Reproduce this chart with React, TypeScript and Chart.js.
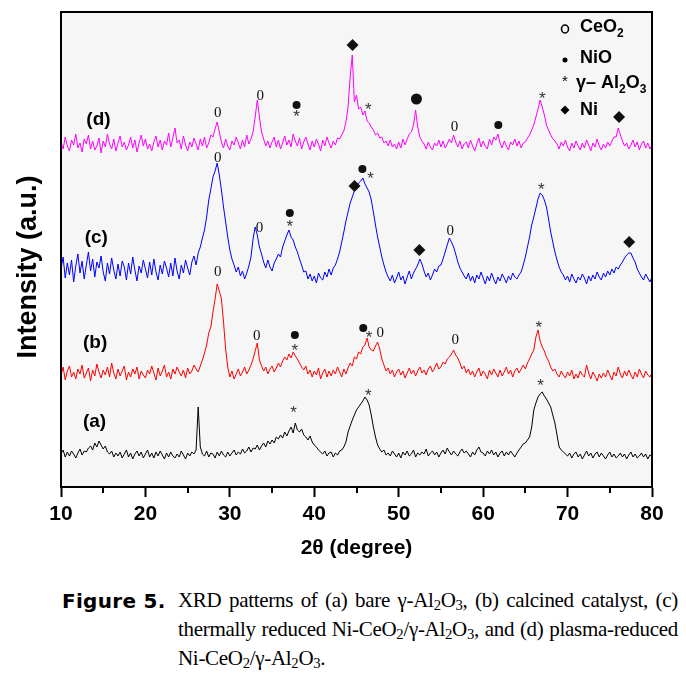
import React, { useEffect, useRef } from 'react';
import { Chart, registerables } from 'chart.js';
Chart.register(...registerables);

// 2θ sampling grid (degrees), 0.25° step from 10 to 80
const twoTheta: number[] = Array.from({ length: 281 }, (_, i) => 10 + i * 0.25);

// (a) bare γ-Al2O3
const patternA: number[] = [
  33,37,30,35, 31,36,33,29, 34,38,32,36, 35,39,41,37, 44,40,46,42,
  38,41,35,33, 36,30,34,31, 35,29,33,37, 30,34,28,33, 36,31,35,29,
  33,37,30,34, 29,35,31,36, 32,28,34,30, 35,31,29,33, 30,36,32,28,
  34,31,35,33, 37,80,40,33, 31,36,30,34, 33,29,35,31, 36,32,30,35,
  31,34,37,32, 35,33,38,34, 36,40,35,39, 38,42,37,41, 44,40,46,43,
  47,44,50,48, 52,49,55,51, 56,60,54,64, 57,55,58,52, 50,47,51,45,
  42,40,37,35, 33,36,31,34, 35,30,34,32, 36,37,40,45, 55,61,67,72,
  77,80,83,86, 90,87,82,72, 60,50,42,38, 35,37,32,34, 31,36,33,30,
  34,29,35,32, 36,31,33,37, 30,34,32,35, 33,38,31,34, 36,32,35,30,
  34,37,33,39, 35,32,36,33, 31,35,38,34, 36,33,30,35, 32,37,40,35,
  34,31,36,33, 37,32,35,30, 34,36,31,35, 32,36,33,30, 34,37,40,43,
  44,47,50,60, 77,84,90,93, 95,91,88,84, 80,72,64,52, 40,37,35,33,
  31,34,29,33, 35,30,33,28, 32,36,31,34, 29,33,35,30, 34,31,28,32,
  35,30,33,29, 31,34,30,33, 28,32,35,30, 33,29,31,34, 30,33,28,32,
  31,
];

// (b) calcined catalyst
const patternB: number[] = [
  112,120,107,116, 121,110,115,108, 118,113,122,109, 114,119,106,117, 111,123,115,109,
  117,112,120,110, 124,114,108,118, 111,116,121,107, 115,110,118,113, 120,108,116,112,
  109,117,113,121, 114,107,119,111, 116,122,110,115, 108,118,113,120, 115,111,117,109,
  119,113,116,122, 118,115,121,127, 134,142,154,160, 175,188,203,196, 188,165,138,120,
  110,116,108,113, 118,111,115,120, 113,117,122,128, 136,144,127,121, 116,120,113,118,
  121,115,119,124, 120,126,130,127, 133,129,135,131, 128,124,120,117, 121,113,117,110,
  116,112,119,108, 114,118,110,116, 111,117,113,120, 115,110,118,113, 119,124,121,130,
  128,135,133,140, 142,149,140,137, 136,141,145,138, 128,122,116,119, 113,117,110,115,
  118,112,116,109, 114,119,113,117, 111,116,120,114, 117,112,118,121, 115,119,124,118,
  120,125,123,128, 130,133,137,132, 129,124,118,121, 114,118,112,116, 110,115,119,111,
  116,113,108,117, 112,118,114,110, 117,111,115,120, 113,117,110,116, 119,114,118,122,
  118,124,128,133, 137,150,157,146, 140,136,130,126, 120,116,118,113, 110,116,112,109,
  115,111,117,108, 113,109,116,112, 110,122,114,108, 115,111,106,113, 109,114,110,117,
  112,107,115,111, 120,113,109,116, 111,117,112,108, 115,110,118,113, 109,116,112,110,
  114,
];

// (c) thermally reduced Ni-CeO2/γ-Al2O3
const patternC: number[] = [
  218,230,209,224, 212,227,205,221, 233,214,226,208, 222,235,216,228, 210,225,219,231,
  215,206,224,213, 229,217,208,223, 211,226,220,207, 224,213,230,217, 206,221,214,227,
  218,209,225,212, 228,215,207,222, 213,226,219,210, 224,211,229,216, 208,222,214,227,
  219,212,225,231, 222,234,240,249, 257,270,287,298, 310,316,324,312, 297,280,265,250,
  237,228,222,215, 220,211,216,208, 214,221,230,248, 260,252,240,233, 225,219,227,220,
  216,224,228,233, 230,240,246,252, 257,250,247,240, 235,228,222,215, 216,208,213,206,
  211,204,214,209, 207,215,210,218, 212,219,222,228, 235,245,255,266, 275,284,290,296,
  300,304,306,309, 303,299,295,287, 275,262,250,240, 230,222,215,210, 206,212,204,209,
  215,207,211,203, 210,216,208,214, 218,222,228,223, 216,210,214,207, 212,218,215,221,
  222,228,235,242, 249,245,240,233, 225,219,215,211, 208,214,206,211, 204,212,208,215,
  209,203,211,206, 214,208,203,210, 206,213,209,204, 211,207,214,210, 208,212,215,222,
  230,240,250,262, 270,279,288,294, 292,287,280,268, 255,245,235,227, 220,215,212,207,
  211,205,213,208, 204,210,207,213, 209,203,211,206, 212,208,215,210, 207,214,210,216,
  212,218,214,220, 218,222,225,229, 232,234,234,229, 225,218,214,210, 207,213,209,205,
  210,
];

// (d) plasma-reduced Ni-CeO2/γ-Al2O3
const patternD: number[] = [
  345,338,350,341, 336,347,342,353, 339,344,335,348, 343,352,338,346, 337,341,349,334,
  346,340,353,343, 338,348,336,344, 351,340,345,337, 342,350,339,347, 335,344,352,341,
  348,338,343,336, 345,351,340,347, 337,346,342,354, 340,349,359,344, 347,338,351,342,
  336,345,340,349, 343,337,348,341, 350,339,344,352, 350,358,365,355, 345,339,348,341,
  337,346,342,350, 344,338,347,340, 352,343,348,355, 370,387,370,355, 348,341,346,339,
  345,350,340,347, 338,344,351,342, 347,340,353,346, 341,349,338,345, 350,343,337,346,
  340,348,343,336, 347,341,350,344, 339,346,342,349, 348,352,356,365, 380,410,432,385,
  392,378,380,372, 376,366,364,360, 357,352,354,349, 350,344,346,341, 347,340,343,338,
  345,339,348,342, 348,353,355,362, 377,360,350,346, 343,338,345,340, 337,344,341,347,
  340,346,339,343, 348,344,352,345, 340,346,338,343, 345,339,347,341, 336,343,349,340,
  346,341,338,348, 342,350,347,353, 344,339,346,341, 337,345,342,348, 341,346,339,344,
  345,349,352,357, 362,370,378,387, 380,372,362,357, 352,348,346,343, 338,345,341,347,
  340,336,344,339, 346,341,337,344, 339,347,342,336, 344,340,348,341, 337,343,339,345,
  341,346,350,350, 359,352,346,341, 344,338,342,347, 340,345,337,343, 346,339,344,338,
  342,
];

const seriesNames = ['(a)', '(b)', '(c)', '(d)'];
const seriesColors = ['#000000', '#ff0000', '#0000ff', '#ff00ff'];
// label anchor: [2θ, intensity]
const seriesLabelAt: [number, number][] = [[12.6, 65], [12.6, 144], [12.8, 249], [13.0, 367]];

// phase markers: [2θ, intensity, symbol]  o = CeO2, • = NiO, * = γ-Al2O3, ◆ = Ni
type Mark = [number, number, string];
const marksA: Mark[] = [[37.55, 78, '*'], [46.4, 95, '*'], [66.8, 105, '*']];
const marksB: Mark[] = [
  [28.56, 215, '0'], [33.2, 151, '0'], [37.7, 152, '●'], [37.7, 140, '*'],
  [45.8, 159, '●'], [46.5, 153, '*'], [47.8, 154, '0'], [56.7, 147, '0'], [66.6, 163, '*'],
];
const marksC: Mark[] = [
  [28.56, 329, '0'], [33.5, 259, '0'], [37.1, 274, '●'], [37.1, 264, '*'],
  [44.76, 301, '◆'], [45.7, 318, '●'], [46.66, 312, '*'], [52.45, 237, '◆'],
  [56.1, 256, '0'], [66.9, 301, '*'], [77.3, 245, '◆'],
];
const marksD: Mark[] = [
  [28.56, 374, '0'], [33.6, 391, '0'], [37.9, 382, '●'], [37.9, 374, '*'],
  [44.53, 442, '◆'], [46.4, 381, '*'], [52.1, 388, '⬤'], [56.6, 360, '0'],
  [61.8, 362, '●'], [67.0, 392, '*'], [76.1, 370, '◆'],
];

const xMajorTicks = [10, 20, 30, 40, 50, 60, 70, 80];
const xMinorTicks = [15, 25, 35, 45, 55, 65, 75];

const SANS = '"Liberation Sans", Arial, sans-serif';
const SERIF = '"Liberation Serif", "Times New Roman", serif';

function drawMark(ctx: CanvasRenderingContext2D, x: number, y: number, s: string) {
  ctx.save();
  ctx.fillStyle = '#111';
  ctx.strokeStyle = '#111';
  if (s === '●') {
    ctx.beginPath(); ctx.arc(x, y, 4, 0, Math.PI * 2); ctx.fill();
  } else if (s === '⬤') {
    ctx.beginPath(); ctx.arc(x, y, 5.5, 0, Math.PI * 2); ctx.fill();
  } else if (s === '◆') {
    ctx.beginPath(); ctx.moveTo(x, y - 6); ctx.lineTo(x + 6, y); ctx.lineTo(x, y + 6); ctx.lineTo(x - 6, y); ctx.closePath(); ctx.fill();
  } else if (s === '*') {
    ctx.fillStyle = '#333';
    ctx.font = `17px ${SANS}`;
    ctx.textAlign = 'center'; ctx.textBaseline = 'middle';
    ctx.fillText('*', x, y + 4);
  } else {
    ctx.font = `15px ${SERIF}`;
    ctx.textAlign = 'center'; ctx.textBaseline = 'middle';
    ctx.fillText(s, x, y);
  }
  ctx.restore();
}

function drawParts(ctx: CanvasRenderingContext2D, parts: [string, boolean][], x: number, y: number) {
  let cx = x;
  for (const [t, sub] of parts) {
    ctx.font = sub ? `bold 12px ${SANS}` : `bold 18px ${SANS}`;
    ctx.fillText(t, cx, sub ? y + 7 : y);
    cx += ctx.measureText(t).width;
  }
}

const decor = {
  id: 'decor',
  beforeDraw(chart: any) {
    const { ctx, chartArea: a } = chart;
    ctx.save();
    ctx.fillStyle = '#f6f6f6';
    ctx.fillRect(a.left, a.top, a.right - a.left, a.bottom - a.top);
    ctx.restore();
  },
  afterDatasetsDraw(chart: any) {
    const { ctx } = chart;
    const xs = chart.scales.x, ys = chart.scales.y;
    const all = [marksA, marksB, marksC, marksD];
    all.forEach((ms) => ms.forEach(([t, v, s]) => drawMark(ctx, xs.getPixelForValue(t), ys.getPixelForValue(v), s)));
    ctx.save();
    ctx.fillStyle = '#000';
    ctx.font = `bold 19px ${SANS}`;
    ctx.textAlign = 'left'; ctx.textBaseline = 'middle';
    seriesNames.forEach((n, i) => {
      const [t, v] = seriesLabelAt[i];
      ctx.fillText(n, xs.getPixelForValue(t), ys.getPixelForValue(v));
    });
    ctx.restore();
  },
  afterDraw(chart: any) {
    const { ctx, chartArea: a } = chart;
    const xs = chart.scales.x;
    ctx.save();
    ctx.strokeStyle = '#000';
    ctx.lineWidth = 2;
    ctx.strokeRect(a.left, a.top, a.right - a.left, a.bottom - a.top);
    ctx.beginPath();
    xMinorTicks.forEach((t) => {
      const px = Math.round(xs.getPixelForValue(t));
      ctx.moveTo(px, a.bottom); ctx.lineTo(px, a.bottom + 6);
    });
    ctx.stroke();
    // y title
    ctx.save();
    ctx.translate(29, 267);
    ctx.rotate(-Math.PI / 2);
    ctx.fillStyle = '#000';
    ctx.font = `bold 27px ${SANS}`;
    ctx.textAlign = 'center'; ctx.textBaseline = 'middle';
    ctx.fillText('Intensity (a.u.)', 0, 0);
    ctx.restore();
    // legend
    const sx = a.right - 87, tx = a.right - 72;
    const rows = [a.top + 15, a.top + 46, a.top + 71, a.top + 98];
    ctx.fillStyle = '#000';
    ctx.strokeStyle = '#000';
    ctx.textAlign = 'left'; ctx.textBaseline = 'middle';
    ctx.lineWidth = 1.6;
    ctx.beginPath(); ctx.ellipse(sx, rows[0] + 2, 3.5, 4, 0, 0, Math.PI * 2); ctx.stroke();
    ctx.beginPath(); ctx.arc(sx, rows[1] + 2, 2.5, 0, Math.PI * 2); ctx.fill();
    ctx.font = `15px ${SANS}`;
    ctx.textAlign = 'center';
    ctx.fillText('*', sx, rows[2] - 1);
    ctx.beginPath(); ctx.moveTo(sx, rows[3] - 4.5); ctx.lineTo(sx + 4.5, rows[3]); ctx.lineTo(sx, rows[3] + 4.5); ctx.lineTo(sx - 4.5, rows[3]); ctx.closePath(); ctx.fill();
    ctx.textAlign = 'left';
    drawParts(ctx, [['CeO', false], ['2', true]], tx, rows[0]);
    drawParts(ctx, [['NiO', false]], tx, rows[1]);
    drawParts(ctx, [['γ– Al', false], ['2', true], ['O', false], ['3', true]], tx - 4, rows[2]);
    drawParts(ctx, [['Ni', false]], tx, rows[3]);
    ctx.restore();
  },
};

export default function App() {
  const ref = useRef<HTMLCanvasElement | null>(null);
  useEffect(() => {
    if (!ref.current) return;
    const patterns = [patternA, patternB, patternC, patternD];
    const chart = new Chart(ref.current, {
      type: 'line',
      data: {
        datasets: patterns.map((p, i) => ({
          label: seriesNames[i],
          data: p.map((v, j) => ({ x: twoTheta[j], y: v })),
          borderColor: seriesColors[i],
          borderWidth: 1,
          pointRadius: 0,
          tension: 0,
          fill: false,
        })),
      },
      options: {
        responsive: false,
        animation: false,
        events: [],
        layout: { padding: { left: 61, right: 34, top: 12, bottom: 0 } },
        plugins: { legend: { display: false }, tooltip: { enabled: false }, title: { display: false } },
        scales: {
          x: {
            type: 'linear',
            min: 10,
            max: 80,
            afterBuildTicks: (s: any) => { s.ticks = xMajorTicks.map((v) => ({ value: v })); },
            afterFit: (s: any) => { s.height = 93; },
            grid: { display: true, drawOnChartArea: false, drawTicks: true, tickLength: 10, tickWidth: 2, tickColor: '#000', color: '#000' },
            border: { display: true, color: '#000', width: 2 },
            ticks: { color: '#000', font: { family: SANS, size: 21, weight: 'bold' }, padding: 5, maxRotation: 0 },
            title: { display: true, text: '2θ (degree)', color: '#000', font: { family: SANS, size: 21, weight: 'bold' }, padding: { top: 0, bottom: 19 } },
          },
          y: { display: false, min: 0, max: 475 },
        },
      },
      plugins: [decor],
    } as any);
    return () => chart.destroy();
  }, []);

  const sub = { fontSize: '0.7em', verticalAlign: '-0.22em', lineHeight: 0 } as React.CSSProperties;
  const lineStyle = { whiteSpace: 'nowrap', textAlign: 'justify', textAlignLast: 'justify', height: 29 } as React.CSSProperties;
  return (
    <div style={{ position: 'absolute', left: 0, top: 0, width: 686, height: 680, background: '#fff' }}>
      <canvas ref={ref} width={686} height={580} style={{ display: 'block', width: 686, height: 580 }} />
      <div style={{ position: 'absolute', left: 62, top: 587, fontFamily: '"DejaVu Sans", sans-serif', fontWeight: 'bold', fontSize: 20, letterSpacing: 0.3, lineHeight: '29px', color: '#000' }}>
        Figure 5.
      </div>
      <div style={{ position: 'absolute', left: 178, top: 586, width: 500, fontFamily: SERIF, fontSize: 21, letterSpacing: -0.3, wordSpacing: -0.5, lineHeight: '29px', color: '#000' }}>
        <div style={lineStyle}>XRD patterns of (a) bare γ-Al<span style={sub}>2</span>O<span style={sub}>3</span>, (b) calcined catalyst, (c)</div>
        <div style={lineStyle}>thermally reduced Ni-CeO<span style={sub}>2</span>/γ-Al<span style={sub}>2</span>O<span style={sub}>3</span>, and (d) plasma-reduced</div>
        <div style={{ whiteSpace: 'nowrap', height: 29 }}>Ni-CeO<span style={sub}>2</span>/γ-Al<span style={sub}>2</span>O<span style={sub}>3</span>.</div>
      </div>
    </div>
  );
}
